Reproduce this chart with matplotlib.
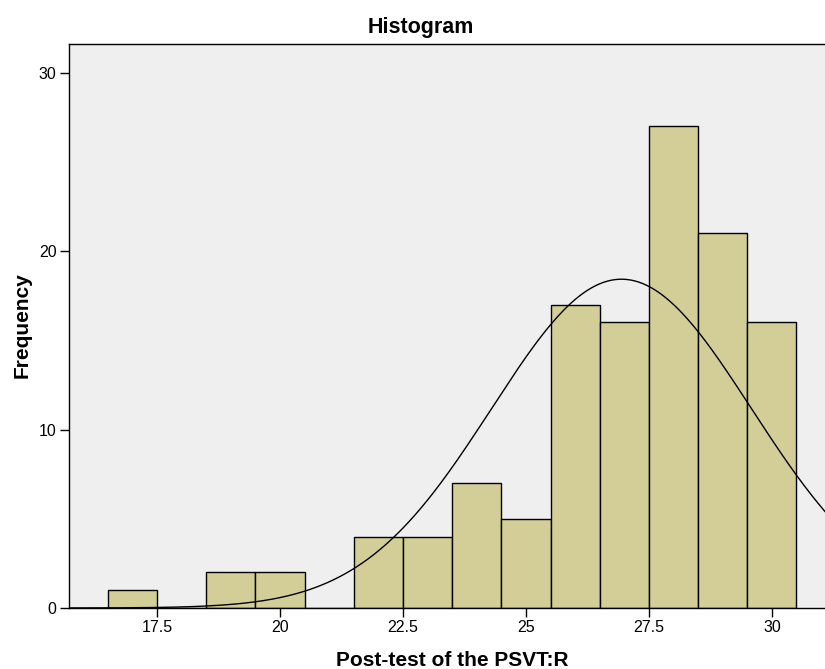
import numpy as np
import matplotlib
matplotlib.use("Agg")
import matplotlib.pyplot as plt

# Histogram bins (centres) and counts
bin_centers = [17, 18, 19, 20, 21, 22, 23, 24, 25, 26, 27, 28, 29, 30]
counts      = [1, 0, 2, 2, 0, 4, 4, 7, 5, 17, 16, 27, 21, 16]
bin_width = 1.0
x_ticks = [17.5, 20, 22.5, 25, 27.5, 30]
x_tick_labels = ["17.5", "20", "22.5", "25", "27.5", "30"]
y_ticks = [0, 10, 20, 30]

title = "Histogram"
x_label = "Post-test of the PSVT:R"
y_label = "Frequency"

plt.rcParams['font.family'] = ['Liberation Sans', 'DejaVu Sans']

fig = plt.figure(figsize=(8.25, 6.69), dpi=100)
W, H = 825, 669
ax = fig.add_axes([69 / W, (H - 608) / H, 1 - 69 / W, (608 - 44) / H])
ax.set_facecolor('#EFEFEF')

ax.bar(bin_centers, counts, width=bin_width, color='#D3CE98',
       edgecolor='black', linewidth=1.0, zorder=2)

# Normal curve from the data's mean and SD
c = np.array(counts, dtype=float)
xc = np.array(bin_centers, dtype=float)
n = c.sum()
mean = (c * xc).sum() / n
sd = np.sqrt((c * (xc - mean) ** 2).sum() / (n - 1))
xs = np.linspace(15.5, 31.5, 400)
ys = n * bin_width / (sd * np.sqrt(2 * np.pi)) * np.exp(-0.5 * ((xs - mean) / sd) ** 2)
ax.plot(xs, ys, color='black', linewidth=1.0, zorder=3)

ax.set_xlim(15.71, 31.08)
ax.set_ylim(0, 31.6)
ax.set_xticks(x_ticks)
ax.set_xticklabels(x_tick_labels)
ax.set_yticks(y_ticks)
ax.tick_params(axis='both', direction='out', length=6.5, width=1.0,
               labelsize=11.5, colors='black', pad=2.5)
for s in ['left', 'bottom', 'top']:
    ax.spines[s].set_color('black')
    ax.spines[s].set_linewidth(1.0)
ax.spines['right'].set_visible(False)

fig.text(421 / W, 1 - 28 / H, title, ha='center', va='center',
         fontsize=15.5, fontweight='bold')
fig.text(452 / W, 1 - 660 / H, x_label, ha='center', va='center',
         fontsize=15, fontweight='bold')
fig.text(22 / W, 1 - 325 / H, y_label, ha='center', va='center',
         rotation=90, fontsize=15, fontweight='bold')

fig.savefig('out.png', dpi=100)
